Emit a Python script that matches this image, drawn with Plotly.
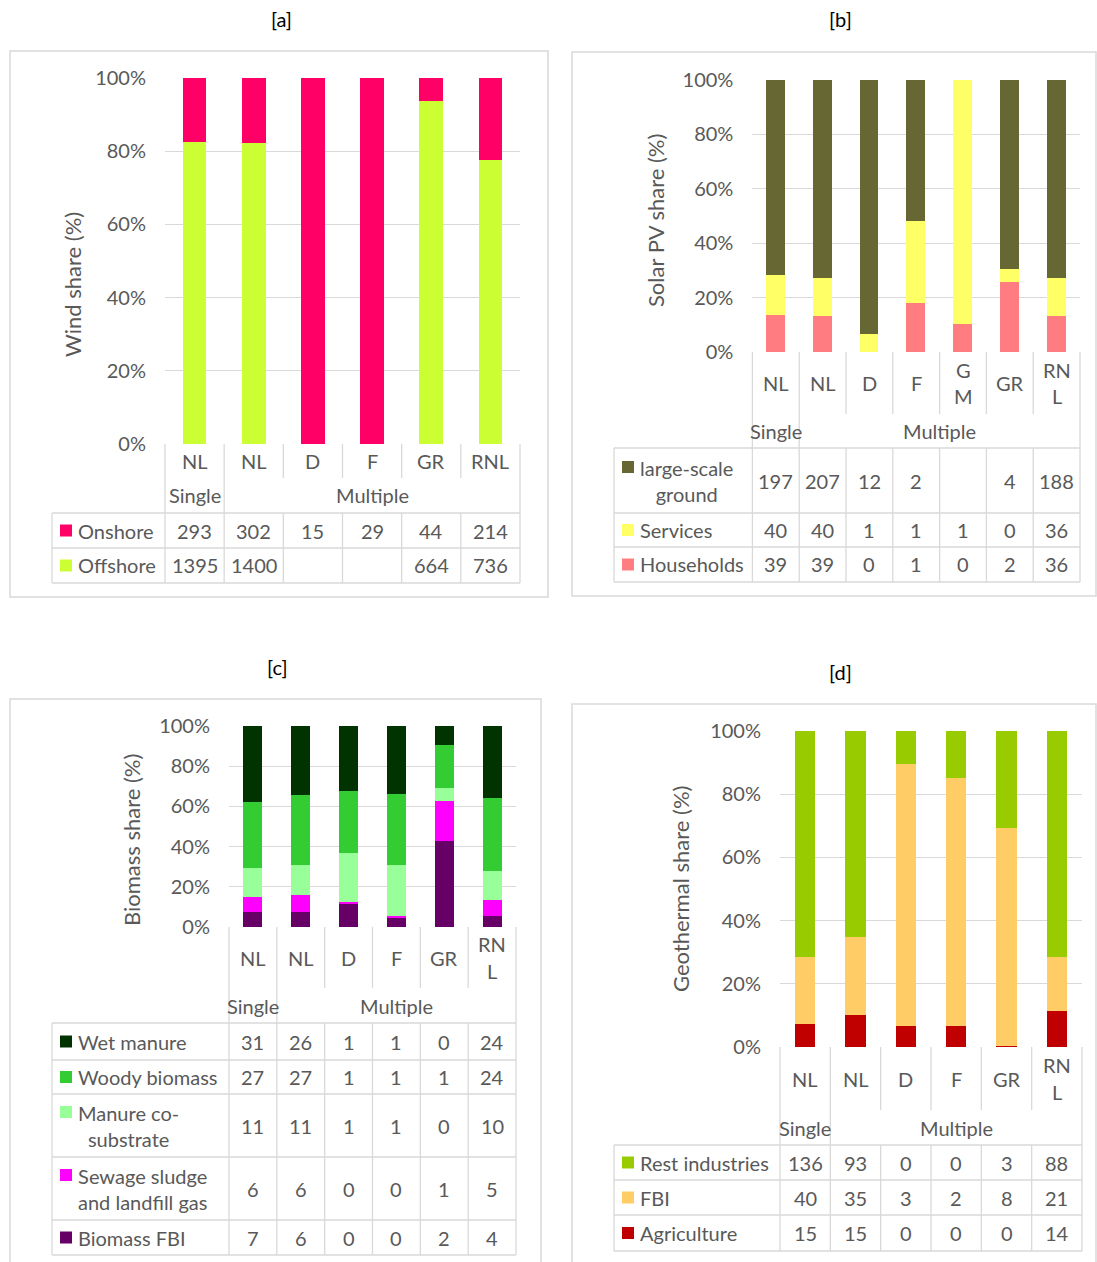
import plotly.graph_objects as go

W, H = 1097, 1262

# ---------------- data ----------------
# [a] Wind
wind_categories = ["NL", "NL", "D", "F", "GR", "RNL"]
wind_series = ["Onshore", "Offshore"]
wind_colors = ["#FF0066", "#CCFF33"]
wind_onshore_share = [17.4, 17.8, 100.0, 100.0, 6.2, 22.5]
wind_offshore_share = [82.6, 82.2, 0.0, 0.0, 93.8, 77.5]
wind_onshore_table = ["293", "302", "15", "29", "44", "214"]
wind_offshore_table = ["1395", "1400", "", "", "664", "736"]

# [b] Solar PV
solar_categories = ["NL", "NL", "D", "F", "G<br>M", "GR", "RN<br>L"]
solar_series = ["large-scale<br>ground", "Services", "Households"]
solar_colors = ["#676733", "#FFFF66", "#FF7C80"]
solar_large_share = [71.8, 72.9, 93.5, 52.0, 0.0, 69.3, 72.8]
solar_services_share = [14.7, 14.0, 6.5, 30.0, 89.7, 4.9, 13.8]
solar_households_share = [13.5, 13.1, 0.0, 18.0, 10.3, 25.8, 13.4]
solar_large_table = ["197", "207", "12", "2", "", "4", "188"]
solar_services_table = ["40", "40", "1", "1", "1", "0", "36"]
solar_households_table = ["39", "39", "0", "1", "0", "2", "36"]

# [c] Biomass
bio_categories = ["NL", "NL", "D", "F", "GR", "RN<br>L"]
bio_series = ["Wet manure", "Woody biomass", "Manure co-<br>substrate",
              "Sewage sludge<br>and landfill gas", "Biomass FBI"]
bio_colors = ["#003300", "#33CC33", "#99FF99", "#FF00FF", "#660066"]
bio_wet_share = [37.7, 34.5, 32.5, 33.7, 9.3, 36.0]
bio_woody_share = [33.1, 34.8, 30.7, 35.6, 21.4, 36.0]
bio_manure_share = [14.2, 15.0, 24.5, 25.4, 6.8, 14.7]
bio_sewage_share = [7.7, 8.2, 0.5, 0.8, 19.5, 7.8]
bio_fbi_share = [7.3, 7.5, 11.8, 4.5, 43.0, 5.5]
bio_wet_table = ["31", "26", "1", "1", "0", "24"]
bio_woody_table = ["27", "27", "1", "1", "1", "24"]
bio_manure_table = ["11", "11", "1", "1", "0", "10"]
bio_sewage_table = ["6", "6", "0", "0", "1", "5"]
bio_fbi_table = ["7", "6", "0", "0", "2", "4"]

# [d] Geothermal
geo_categories = ["NL", "NL", "D", "F", "GR", "RN<br>L"]
geo_series = ["Rest industries", "FBI", "Agriculture"]
geo_colors = ["#99CC00", "#FFCC66", "#C00000"]
geo_rest_share = [71.4, 65.3, 10.4, 14.8, 30.6, 71.4]
geo_fbi_share = [21.2, 24.7, 82.9, 78.5, 69.0, 17.3]
geo_agri_share = [7.4, 10.0, 6.7, 6.7, 0.4, 11.3]
geo_rest_table = ["136", "93", "0", "0", "3", "88"]
geo_fbi_table = ["40", "35", "3", "2", "8", "21"]
geo_agri_table = ["15", "15", "0", "0", "0", "14"]

groups = ["Single", "Multiple"]

# ---------------- layout geometry (pixels) ----------------
panels = [
    dict(title="[a]", title_xy=(281, 19), box=(10, 51, 548, 597),
         plot_x=(165, 520), plot_y=(78, 444), cat_bottom=478,
         rows=[513, 548, 583], table_left=52,
         ytitle="Wind share (%)", ytitle_xy=(72, 285),
         cats=wind_categories, names=wind_series, colors=wind_colors,
         shares=[wind_onshore_share, wind_offshore_share],
         table=[wind_onshore_table, wind_offshore_table], two_line=[False, False]),
    dict(title="[b]", title_xy=(840, 19), box=(572, 52, 1096, 596),
         plot_x=(752.4, 1080), plot_y=(80, 352), cat_bottom=414,
         rows=[448, 513, 547, 582], table_left=614,
         ytitle="Solar PV share (%)", ytitle_xy=(655, 221),
         cats=solar_categories, names=solar_series, colors=solar_colors,
         shares=[solar_large_share, solar_services_share, solar_households_share],
         table=[solar_large_table, solar_services_table, solar_households_table],
         two_line=[True, False, False]),
    dict(title="[c]", title_xy=(278, 667), box=(10, 699, 541, 1275),
         plot_x=(229, 516), plot_y=(726, 927), cat_bottom=988,
         rows=[1023, 1060, 1094, 1157, 1220, 1255], table_left=52,
         ytitle="Biomass share (%)", ytitle_xy=(131, 840),
         cats=bio_categories, names=bio_series, colors=bio_colors,
         shares=[bio_wet_share, bio_woody_share, bio_manure_share, bio_sewage_share, bio_fbi_share],
         table=[bio_wet_table, bio_woody_table, bio_manure_table, bio_sewage_table, bio_fbi_table],
         two_line=[False, False, True, True, False]),
    dict(title="[d]", title_xy=(840, 672), box=(572, 704, 1096, 1275),
         plot_x=(780, 1082), plot_y=(731, 1047), cat_bottom=1110,
         rows=[1145, 1180, 1215, 1251], table_left=614,
         ytitle="Geothermal share (%)", ytitle_xy=(680, 889),
         cats=geo_categories, names=geo_series, colors=geo_colors,
         shares=[geo_rest_share, geo_fbi_share, geo_agri_share],
         table=[geo_rest_table, geo_fbi_table, geo_agri_table],
         two_line=[False, False, False]),
]

FONT = "Lato, Carlito, Calibri, sans-serif"
GREY = "#595959"
LINE = "#D9D9D9"
FS = 20


def X(px):
    return px / W


def Y(py):
    return 1 - py / H


def txt(text, x, y, xref="paper", xanchor="center", size=FS, color=GREY, **kw):
    d = dict(text=text, xref=xref, yref="paper", x=x, y=y, xanchor=xanchor,
             yanchor="middle", showarrow=False,
             font=dict(family=FONT, size=size, color=color))
    d.update(kw)
    return d


fig = go.Figure()
shapes = []
annotations = []

for k, p in enumerate(panels):
    n = len(p["cats"])
    sfx = "" if k == 0 else str(k + 1)
    xa, ya = "x" + sfx, "y" + sfx
    px0, px1 = p["plot_x"]
    py100, py0 = p["plot_y"]
    pw = px1 - px0

    # bars: bottom series first (table order is top series first)
    for name, color, share in reversed(list(zip(p["names"], p["colors"], p["shares"]))):
        fig.add_trace(go.Bar(x=list(range(n)), y=share, name=name.replace("<br>", " "),
                             marker=dict(color=color, line=dict(width=0)), width=0.4,
                             xaxis=xa, yaxis=ya, showlegend=False))

    fig.layout["xaxis" + sfx] = dict(domain=[X(px0), X(px1)], range=[-0.5, n - 0.5],
                                     showticklabels=False, showgrid=False, zeroline=False,
                                     showline=False, ticks="", anchor=ya, fixedrange=True,
                                     automargin=False)
    fig.layout["yaxis" + sfx] = dict(domain=[Y(py0), Y(py100)], range=[0, 100],
                                     tickvals=[0, 20, 40, 60, 80, 100],
                                     ticktext=["0%", "20%", "40%", "60%", "80%", "100%"],
                                     showgrid=True, gridcolor=LINE, gridwidth=1.3,
                                     zeroline=False, showline=False, ticks="",
                                     ticklabelstandoff=18, automargin=False,
                                     tickfont=dict(family=FONT, size=FS, color=GREY),
                                     anchor=xa, fixedrange=True)

    # outer box
    bx0, by0, bx1, by1 = p["box"]
    shapes.append(dict(type="rect", xref="paper", yref="paper", x0=X(bx0), x1=X(bx1),
                       y0=Y(by0), y1=Y(by1), line=dict(color=LINE, width=1.5)))

    rows = p["rows"]
    ttop, tbot = rows[0], rows[-1]
    cb = p["cat_bottom"]
    line = dict(color=LINE, width=1.3)
    dref = xa + " domain"
    # plot-edge verticals
    for d in (0, 1):
        shapes.append(dict(type="line", xref=dref, yref="paper", x0=d, x1=d,
                           y0=Y(py0), y1=Y(tbot), line=line))
    # interior category boundaries
    for i in range(1, n):
        yend = Y(tbot) if i == 1 else Y(cb)
        shapes.append(dict(type="line", xref=xa, yref="paper", x0=i - 0.5, x1=i - 0.5,
                           y0=Y(py0), y1=yend, line=line))
        if i != 1:
            shapes.append(dict(type="line", xref=xa, yref="paper", x0=i - 0.5, x1=i - 0.5,
                               y0=Y(ttop), y1=Y(tbot), line=line))
    # table left edge and horizontal rules
    tl = (p["table_left"] - px0) / pw
    shapes.append(dict(type="line", xref=dref, yref="paper", x0=tl, x1=tl,
                       y0=Y(ttop), y1=Y(tbot), line=line))
    for r in rows:
        shapes.append(dict(type="line", xref=dref, yref="paper", x0=tl, x1=1,
                           y0=Y(r), y1=Y(r), line=line))

    # titles
    annotations.append(txt(p["title"], X(p["title_xy"][0]), Y(p["title_xy"][1]),
                           color="#000000"))
    annotations.append(txt(p["ytitle"], X(p["ytitle_xy"][0]), Y(p["ytitle_xy"][1]),
                           size=22, textangle=-90))

    # category labels
    cmid = (py0 + cb) / 2
    for i, c in enumerate(p["cats"]):
        lines = c.split("<br>")
        for j, t in enumerate(lines):
            off = (j - (len(lines) - 1) / 2) * 27
            annotations.append(txt(t, i, Y(cmid + off), xref=xa))
    gmid = (cb + ttop) / 2
    annotations.append(txt(groups[0], 0, Y(gmid), xref=xa))
    annotations.append(txt(groups[1], n / 2, Y(gmid), xref=xa))

    # table rows
    for r, (name, color, vals, two) in enumerate(zip(p["names"], p["colors"], p["table"], p["two_line"])):
        rmid = (rows[r] + rows[r + 1]) / 2
        sq = rmid - 13.5 if two else rmid
        sx = p["table_left"] + 8
        shapes.append(dict(type="rect", xref="paper", yref="paper", x0=X(sx), x1=X(sx + 12),
                           y0=Y(sq - 6), y1=Y(sq + 6), fillcolor=color, line=dict(width=0)))
        annotations.append(txt(name, X(p["table_left"] + 24), Y(rmid), xanchor="left",
                               align="center"))
        for i, v in enumerate(vals):
            if v == "":
                continue
            annotations.append(txt(v, i, Y(rmid), xref=xa))

fig.update_layout(width=W, height=H, margin=dict(l=0, r=0, t=0, b=0, pad=0),
                  paper_bgcolor="white", plot_bgcolor="white", barmode="stack",
                  bargap=0, shapes=shapes, annotations=annotations,
                  font=dict(family=FONT, color=GREY))

fig.write_html("out.html", config={"displayModeBar": False},
               post_script="document.body.style.margin='0';document.body.style.overflow='hidden';")
